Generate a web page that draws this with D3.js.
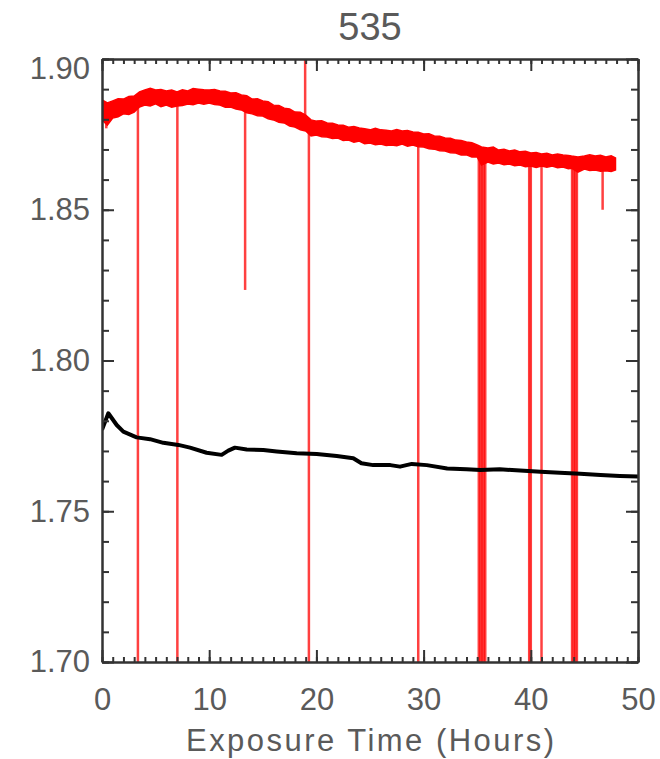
<!DOCTYPE html>
<html lang="en">
<head>
    <meta charset="UTF-8">
    <title>535</title>
    <script src="https://d3js.org/d3.v7.min.js" charset="utf-8"></script>
    <style>
        body { margin: 0; background: #fff; }
        text { font-family: "Liberation Sans", Arial, sans-serif; fill: #5a5a5a; }
    </style>
</head>
<body>

<script>
// values
// red series: upper and lower edge of the noisy band
var redTime = [0, 0.5, 1, 1.5, 2, 2.5, 3, 3.5, 4, 4.5, 5, 5.5, 6, 6.5, 7, 7.5, 8, 8.5, 9, 9.5,
  10, 10.5, 11, 11.5, 12, 12.5, 13, 13.5, 14, 14.5, 15, 15.5, 16, 16.5, 17, 17.5, 18, 18.5, 19, 19.5,
  20, 20.5, 21, 21.5, 22, 22.5, 23, 23.5, 24, 24.5, 25, 25.5, 26, 26.5, 27, 27.5, 28, 28.5, 29, 29.5,
  30, 30.5, 31, 31.5, 32, 32.5, 33, 33.5, 34, 34.5, 35, 35.4, 36, 36.5, 37, 37.5, 38, 38.5, 39, 39.5,
  40, 40.5, 41, 41.5, 42, 42.5, 43, 43.5, 43.8, 44.4, 45, 45.5, 46, 46.5, 47, 47.5, 47.9];
var redHigh = [1.8864, 1.8854, 1.8861, 1.8868, 1.8867, 1.8876, 1.8877, 1.8891, 1.8897, 1.8903, 1.8897, 1.8899,
  1.8894, 1.8897, 1.8891, 1.8898, 1.8894, 1.8902, 1.8900, 1.8898,
  1.8897, 1.8899, 1.8894, 1.8893, 1.8887, 1.8888, 1.8881, 1.8878, 1.8867, 1.8868, 1.8861, 1.8858,
  1.8847, 1.8846, 1.8837, 1.8834, 1.8824, 1.8823, 1.8814, 1.8798,
  1.8794, 1.8795, 1.8788, 1.8787, 1.8781, 1.8780, 1.8774, 1.8776, 1.8771, 1.8769, 1.8765, 1.8770,
  1.8765, 1.8764, 1.8761, 1.8766, 1.8761, 1.8763, 1.8758, 1.8757,
  1.8751, 1.8752, 1.8745, 1.8744, 1.8738, 1.8737, 1.8731, 1.8730, 1.8725, 1.8722, 1.8715, 1.8708,
  1.8705, 1.8708, 1.8698, 1.8701, 1.8695, 1.8698, 1.8692, 1.8694,
  1.8688, 1.8690, 1.8685, 1.8687, 1.8682, 1.8685, 1.8682, 1.8680, 1.8678, 1.8675, 1.8678, 1.8682,
  1.8678, 1.8681, 1.8675, 1.8679, 1.8672];
var redLow = [1.8798, 1.8781, 1.8804, 1.8808, 1.8818, 1.8816, 1.8824, 1.8841, 1.8847, 1.8844, 1.8851, 1.8842,
  1.8847, 1.8840, 1.8844, 1.8846, 1.8851, 1.8848, 1.8854, 1.8850,
  1.8854, 1.8849, 1.8847, 1.8840, 1.8841, 1.8834, 1.8831, 1.8822, 1.8818, 1.8812, 1.8811, 1.8802,
  1.8798, 1.8790, 1.8788, 1.8778, 1.8774, 1.8765, 1.8761, 1.8745,
  1.8748, 1.8742, 1.8741, 1.8736, 1.8738, 1.8730, 1.8731, 1.8724, 1.8728, 1.8719, 1.8721, 1.8716,
  1.8718, 1.8713, 1.8715, 1.8712, 1.8718, 1.8711, 1.8715, 1.8709,
  1.8708, 1.8702, 1.8701, 1.8696, 1.8695, 1.8689, 1.8688, 1.8682, 1.8682, 1.8675, 1.8675, 1.8648,
  1.8658, 1.8652, 1.8655, 1.8649, 1.8652, 1.8646, 1.8648, 1.8643,
  1.8645, 1.8640, 1.8645, 1.8641, 1.8645, 1.8639, 1.8642, 1.8636, 1.8638, 1.8625, 1.8635, 1.8630,
  1.8632, 1.8628, 1.8629, 1.8627, 1.8632];

// spikes in the red series: time, start value, end value
var spikeTime = [0.4, 3.35, 7.03, 13.35, 18.95, 19.3, 29.5, 35.15, 35.3, 35.45, 35.6, 35.75,
  39.85, 40.0, 41.0, 43.85, 44.0, 44.15, 44.3, 46.7];
var spikeFrom = [1.882, 1.884, 1.887, 1.885, 1.880, 1.878, 1.874, 1.870, 1.870, 1.870, 1.869, 1.869,
  1.867, 1.867, 1.866, 1.866, 1.866, 1.866, 1.866, 1.866];
var spikeTo = [1.8770, 1.69, 1.69, 1.8234, 1.91, 1.69, 1.69, 1.69, 1.69, 1.69, 1.69, 1.69,
  1.69, 1.69, 1.69, 1.69, 1.69, 1.69, 1.69, 1.8500];

var blackTime = [0, 0.59, 1.37, 1.99, 3.23, 4.48, 5.72, 7.12, 8.21, 9.76, 11.16, 11.78, 12.4, 13.5, 15.05,
  16.3, 18.16, 20.03, 21.9, 23.44, 24.2, 25.3, 26.9, 27.8, 28.9, 30.3, 32.2, 34.0, 35.3, 37.1, 39.0,
  40.9, 42.7, 44.6, 46.5, 48.3, 50];
var blackValue = [1.7770, 1.7825, 1.7786, 1.7764, 1.7745, 1.7739, 1.7727, 1.7720, 1.7711, 1.7694, 1.7687,
  1.7701, 1.7711, 1.7705, 1.7703, 1.7698, 1.7692, 1.7690, 1.7683, 1.7676, 1.7659, 1.7653, 1.7653,
  1.7648, 1.7657, 1.7653, 1.7642, 1.7639, 1.7637, 1.7639, 1.7635, 1.7631, 1.7628, 1.7624, 1.7620,
  1.7617, 1.7615];

var xTicks = [0, 10, 20, 30, 40, 50];
var yTicks = [1.70, 1.75, 1.80, 1.85, 1.90];
var title = "535";
var xTitle = "Exposure Time (Hours)";

var width = 660, height = 759;
var pLeft = 102, pRight = 638, pTop = 59, pBottom = 662;

var x = d3.scaleLinear().domain([0, 50]).range([pLeft, pRight]);
var y = d3.scaleLinear().domain([1.70, 1.90]).range([pBottom, pTop]);

var svg = d3.select("body").append("svg")
  .attr("width", width)
  .attr("height", height);

svg.append("clipPath").attr("id", "clip")
  .append("rect")
  .attr("x", pLeft).attr("y", pTop)
  .attr("width", pRight - pLeft).attr("height", pBottom - pTop);

var g = svg.append("g").attr("clip-path", "url(#clip)");

// red band
var band = redTime.map(function(t, i) { return [t, redLow[i], redHigh[i]]; });
g.append("path")
  .datum(band)
  .attr("d", d3.area()
    .x(function(d) { return x(d[0]); })
    .y0(function(d) { return y(d[1]); })
    .y1(function(d) { return y(d[2]); }))
  .style("fill", "#ff0000")
  .style("stroke", "#ff0000")
  .style("stroke-width", 1.5);

g.selectAll(".spike")
  .data(spikeTime)
  .enter().append("line")
  .attr("class", "spike")
  .attr("x1", function(d) { return x(d); })
  .attr("x2", function(d) { return x(d); })
  .attr("y1", function(d, i) { return y(spikeFrom[i]); })
  .attr("y2", function(d, i) { return y(spikeTo[i]); })
  .style("stroke", "#ff0000")
  .style("stroke-opacity", 0.75)
  .style("stroke-width", 2.5);

// black line
g.append("path")
  .datum(blackTime.map(function(t, i) { return [t, blackValue[i]]; }))
  .attr("d", d3.line()
    .x(function(d) { return x(d[0]); })
    .y(function(d) { return y(d[1]); }))
  .style("fill", "none")
  .style("stroke", "#000")
  .style("stroke-width", 4)
  .style("stroke-linejoin", "round");

// axes, ticks pointing inwards
var xMinor = d3.range(0, 51, 1);
var yMinor = d3.range(0, 21).map(function(i) { return 1.70 + i * 0.01; });

function styleAxis(sel) {
  sel.selectAll("path, line").style("stroke", "#333").style("stroke-width", 2);
  sel.selectAll("text").style("font-size", "31px").style("fill", "#5a5a5a");
}

svg.append("g").attr("transform", "translate(0," + pBottom + ")")
  .call(d3.axisBottom(x).tickValues(xMinor).tickSize(-5).tickSizeOuter(0).tickFormat(""))
  .call(styleAxis);
svg.append("g").attr("transform", "translate(0," + pBottom + ")")
  .call(d3.axisBottom(x).tickValues(xTicks).tickSize(-12).tickSizeOuter(0).tickPadding(26).tickFormat(d3.format("d")))
  .call(styleAxis);
svg.append("g").attr("transform", "translate(0," + pTop + ")")
  .call(d3.axisTop(x).tickValues(xMinor).tickSize(-5).tickSizeOuter(0).tickFormat(""))
  .call(styleAxis);
svg.append("g").attr("transform", "translate(0," + pTop + ")")
  .call(d3.axisTop(x).tickValues(xTicks).tickSize(-12).tickSizeOuter(0).tickFormat(""))
  .call(styleAxis);

svg.append("g").attr("transform", "translate(" + pLeft + ",0)")
  .call(d3.axisLeft(y).tickValues(yMinor).tickSize(-7).tickSizeOuter(0).tickFormat(""))
  .call(styleAxis);
var yAxis = svg.append("g").attr("transform", "translate(" + pLeft + ",0)")
  .call(d3.axisLeft(y).tickValues(yTicks).tickSize(-12).tickSizeOuter(0).tickPadding(12).tickFormat(d3.format(".2f")))
  .call(styleAxis);
// top label sits a little below its tick in the original
yAxis.selectAll(".tick text").filter(function(d) { return d === 1.90; }).attr("y", 10);

svg.append("g").attr("transform", "translate(" + pRight + ",0)")
  .call(d3.axisRight(y).tickValues(yMinor).tickSize(-7).tickSizeOuter(0).tickFormat(""))
  .call(styleAxis);
svg.append("g").attr("transform", "translate(" + pRight + ",0)")
  .call(d3.axisRight(y).tickValues(yTicks).tickSize(-12).tickSizeOuter(0).tickFormat(""))
  .call(styleAxis);

svg.append("text")
  .attr("x", (pLeft + pRight) / 2)
  .attr("y", 40)
  .attr("text-anchor", "middle")
  .style("font-size", "38px")
  .text(title);

svg.append("text")
  .attr("x", (pLeft + pRight) / 2)
  .attr("y", 751)
  .attr("text-anchor", "middle")
  .attr("textLength", 368)
  .style("font-size", "31px")
  .text(xTitle);
</script>

</body>
</html>
